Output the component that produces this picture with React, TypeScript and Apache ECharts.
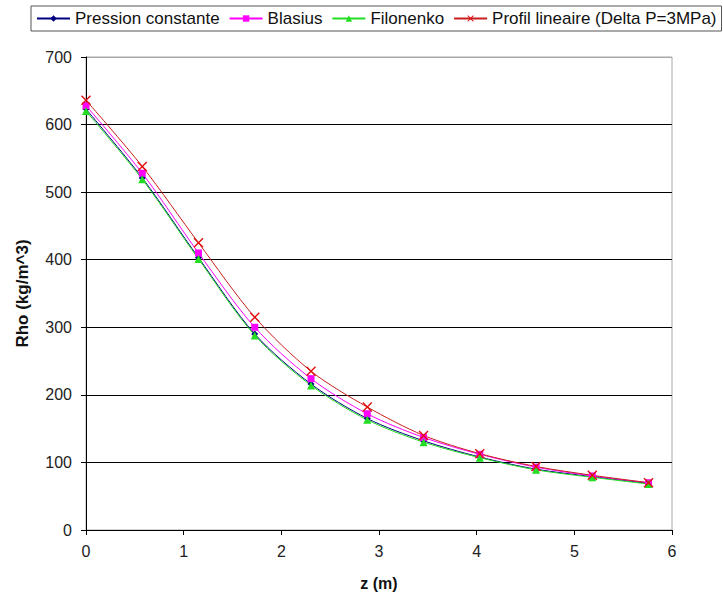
import React, { useEffect, useRef } from "react";
import * as echarts from "echarts";

const zValues = [0, 0.576, 1.152, 1.728, 2.304, 2.88, 3.456, 4.032, 4.608, 5.184, 5.76];
const pressionConstante = [623, 521, 403, 290, 216, 165, 132, 108, 90, 79, 69];
const blasius = [628, 528, 410, 300, 224, 172, 137, 112, 93, 80, 70];
const filonenko = [620, 519, 401, 288, 214, 163, 130, 107, 89, 78, 68];
const profilLineaire = [636, 538, 425, 315, 235, 182, 140, 113, 94, 81, 70];

const seriesNames = [
  "Pression constante",
  "Blasius",
  "Filonenko",
  "Profil lineaire (Delta P=3MPa)",
];

const crossPath =
  "path://M0,1 L1,0 L5,4 L9,0 L10,1 L6,5 L10,9 L9,10 L5,6 L1,10 L0,9 L4,5Z";

const FONT = "'Liberation Sans', Arial, sans-serif";

function pairs(ys: number[]) {
  return zValues.map((x, i) => [x, ys[i]]);
}

export default function App() {
  const ref = useRef<HTMLDivElement>(null);
  useEffect(() => {
    if (!ref.current) return;
    document.body.style.margin = "0";
    const chart = echarts.init(ref.current, null, { renderer: "svg" });
    const mk = (
      name: string,
      data: number[],
      lineColor: string,
      markColor: string,
      symbol: string,
      size: number
    ) => ({
      name,
      type: "line",
      data: pairs(data),
      smooth: 0.3,
      symbol,
      symbolSize: size,
      showSymbol: true,
      lineStyle: { color: lineColor, width: 1 },
      itemStyle: { color: markColor, borderWidth: 0 },
      emphasis: { disabled: true },
    });
    chart.setOption({
      animation: false,
      backgroundColor: "#ffffff",
      textStyle: { fontFamily: FONT },
      legend: {
        left: 31,
        top: 6,
        width: 700,
        padding: [4, 5, 4, 5],
        itemGap: 9,
        itemWidth: 33,
        itemHeight: 8,
        borderColor: "#555",
        borderWidth: 1,
        textStyle: { fontSize: 17, color: "#111", fontFamily: FONT },
        data: seriesNames,
      },
      grid: {
        left: 86,
        right: 51,
        top: 57,
        bottom: 66,
        show: true,
        borderColor: "#a8a8a8",
        borderWidth: 1,
        backgroundColor: "transparent",
      },
      xAxis: {
        type: "value",
        min: 0,
        max: 6,
        interval: 1,
        name: "z (m)",
        nameLocation: "middle",
        nameGap: 45,
        nameTextStyle: { fontSize: 16, fontWeight: "bold", color: "#111", fontFamily: FONT },
        axisLine: { show: true, onZero: false, lineStyle: { color: "#000", width: 1 } },
        axisTick: { show: true, inside: false, length: 5, lineStyle: { color: "#000" } },
        axisLabel: { fontSize: 16, color: "#222", margin: 13, fontFamily: FONT },
        splitLine: { show: false },
      },
      yAxis: {
        type: "value",
        min: 0,
        max: 700,
        interval: 100,
        name: "Rho (kg/m^3)",
        nameLocation: "middle",
        nameGap: 55,
        nameRotate: 90,
        nameTextStyle: { fontSize: 17, fontWeight: "bold", color: "#111", fontFamily: FONT },
        axisLine: { show: true, onZero: false, lineStyle: { color: "#000", width: 1 } },
        axisTick: { show: true, inside: false, length: 5, lineStyle: { color: "#000" } },
        axisLabel: { fontSize: 16, color: "#222", margin: 14, fontFamily: FONT },
        splitLine: {
          show: true,
          lineStyle: {
            color: ["#000", "#000", "#000", "#000", "#000", "#000", "#000", "#a8a8a8"],
            width: 1,
          },
        },
      },
      series: [
        mk(seriesNames[0], pressionConstante, "#000080", "#000080", "diamond", 7),
        mk(seriesNames[1], blasius, "#ff00ff", "#ff00ff", "rect", 7),
        mk(seriesNames[2], filonenko, "#22dd22", "#22dd22", "triangle", 8),
        mk(seriesNames[3], profilLineaire, "#c81e1e", "#e01010", crossPath, 10),
      ],
    });
    return () => chart.dispose();
  }, []);
  return (
    <div
      ref={ref}
      style={{ width: 723, height: 596, position: "absolute", left: 0, top: 0 }}
    />
  );
}
